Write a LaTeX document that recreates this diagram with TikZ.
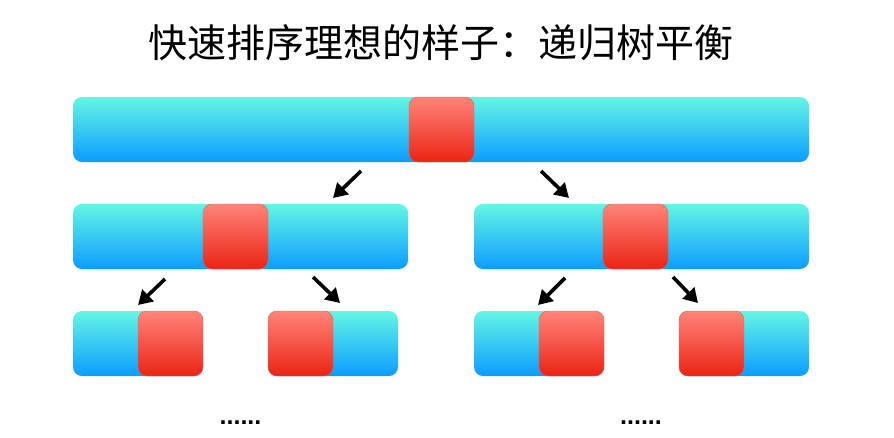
\documentclass[tikz,border=0pt]{standalone}
\usepackage{fontspec}
\setmainfont{Liberation Sans}
\newfontfamily\cjk{Noto Sans CJK SC}
\usetikzlibrary{arrows.meta}
\definecolor{cyantop}{RGB}{100,246,228}
\definecolor{bluebot}{RGB}{12,156,255}
\definecolor{redtop}{RGB}{255,132,121}
\definecolor{redbot}{RGB}{234,36,20}
\definecolor{redrim}{RGB}{222,96,86}
\tikzset{
  bar/.style={rectangle, rounded corners=9pt, draw=none, inner sep=0pt, outer sep=0pt,
    top color=cyantop, bottom color=bluebot, minimum height=65pt},
  pivot/.style={rectangle, rounded corners=9pt, draw=redrim, line width=0.4pt, inner sep=0pt, outer sep=0pt,
    top color=redtop, bottom color=redbot, minimum width=65pt, minimum height=65pt},
  splitarrow/.style={line width=3.6pt, -{Triangle[length=14pt,width=16pt]}},
  dots/.style={font=\fontsize{25}{25}\bfseries\selectfont, inner sep=0pt}
}
\begin{document}
\begin{tikzpicture}[x=1pt,y=1pt]
\useasboundingbox (0,0) rectangle (894,-437);
\node[font=\cjk\fontsize{39}{39}\selectfont, inner sep=0pt] (title) at (441,-43) {快速排序理想的样子：递归树平衡};
% level 0
\node[bar, minimum width=736pt] (b0) at (441,-129.5) {};
\node[pivot] (r0) at (441.5,-129.5) {};
% level 1
\node[bar, minimum width=335pt] (b1L) at (240.5,-236.5) {};
\node[pivot] (r1L) at (235.5,-236.5) {};
\node[bar, minimum width=335pt] (b1R) at (641.5,-236.5) {};
\node[pivot] (r1R) at (635.5,-236.5) {};
% level 2
\node[bar, minimum width=130pt] (b2a) at (138,-343.5) {};
\node[pivot] (r2a) at (170.5,-343.5) {};
\node[bar, minimum width=130pt] (b2b) at (333,-343.5) {};
\node[pivot] (r2b) at (300.5,-343.5) {};
\node[bar, minimum width=130pt] (b2c) at (539,-343.5) {};
\node[pivot] (r2c) at (571.5,-343.5) {};
\node[bar, minimum width=130pt] (b2d) at (744,-343.5) {};
\node[pivot] (r2d) at (711.5,-343.5) {};
% arrow ends
\coordinate (a1s) at (361,-171); \coordinate (a1e) at (333,-198);
\coordinate (a2s) at (541,-171); \coordinate (a2e) at (569,-198);
\coordinate (a3s) at (165,-279); \coordinate (a3e) at (138,-305);
\coordinate (a4s) at (313,-277); \coordinate (a4e) at (340,-303);
\coordinate (a5s) at (565,-278); \coordinate (a5e) at (538,-305);
\coordinate (a6s) at (673,-277); \coordinate (a6e) at (698,-303);
\draw[splitarrow] (a1s) -- (a1e);
\draw[splitarrow] (a2s) -- (a2e);
\draw[splitarrow] (a3s) -- (a3e);
\draw[splitarrow] (a4s) -- (a4e);
\draw[splitarrow] (a5s) -- (a5e);
\draw[splitarrow] (a6s) -- (a6e);
% ellipses
\node[dots, anchor=base] (d1) at (240.5,-424) {......};
\node[dots, anchor=base] (d2) at (641,-424) {......};
\end{tikzpicture}
\end{document}
